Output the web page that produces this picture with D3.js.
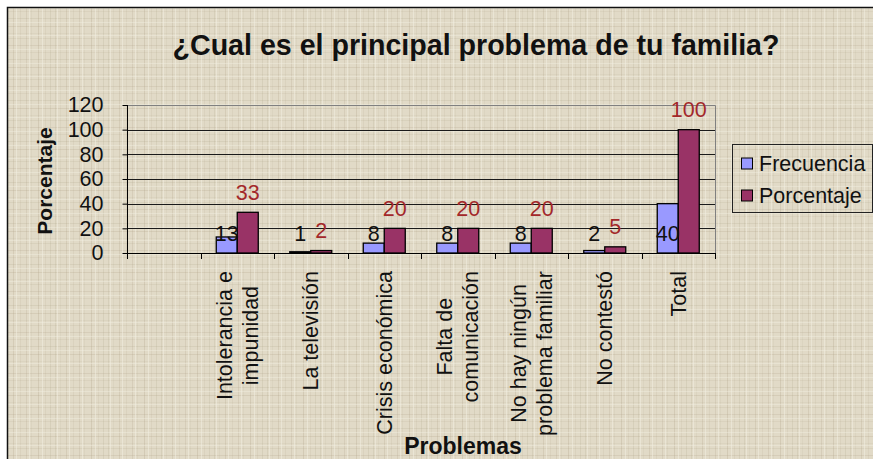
<!DOCTYPE html>
<html>
<head>
<meta charset="utf-8">
<script src="https://cdn.jsdelivr.net/npm/d3@7/dist/d3.min.js"></script>
<style>
  html, body { margin: 0; padding: 0; background: #fff; }
  svg { display: block; }
  text { font-family: "Liberation Sans", Arial, sans-serif; }
</style>
</head>
<body>
<div id="chart"></div>
<script>
// datos del gráfico
var categorias = ["", "Intolerancia e|impunidad", "La televisión", "Crisis económica",
    "Falta de|comunicación", "No hay ningún|problema familiar", "No contestó", "Total"];
var series = ["Frecuencia", "Porcentaje"];
var frecuencia = [null, 13, 1, 8, 8, 8, 2, 40];
var porcentaje = [null, 33, 2, 20, 20, 20, 5, 100];
var yTicks = [0, 20, 40, 60, 80, 100, 120];
var colores = ["#9999ff", "#993366"];

var W = 873, H = 459;
var svg = d3.select("#chart").append("svg").attr("width", W).attr("height", H);

// textura de fondo (papel)
var defs = svg.append("defs");
var pat = defs.append("pattern").attr("id", "papel").attr("patternUnits", "userSpaceOnUse")
    .attr("width", 53).attr("height", 41);
pat.append("rect").attr("width", 53).attr("height", 41).attr("fill", "#e1dac7");
[[2, .18], [7, .1], [13, .22], [20, .12], [26, .2], [31, .1], [38, .25], [45, .12], [50, .18]].forEach(function (v) {
    pat.append("rect").attr("x", v[0]).attr("y", 0).attr("width", 1).attr("height", 41)
        .attr("fill", "#a89c80").attr("opacity", v[1]);
});
[[4, .2], [11, .12], [18, .18], [26, .22], [33, .1], [38, .15]].forEach(function (v) {
    pat.append("rect").attr("x", 0).attr("y", v[0]).attr("width", 53).attr("height", 1)
        .attr("fill", "#a89c80").attr("opacity", v[1]);
});
[4, 16, 29, 42].forEach(function (v) {
    pat.append("rect").attr("x", v).attr("y", 0).attr("width", 1).attr("height", 41)
        .attr("fill", "#f3efe4").attr("opacity", .5);
});
[8, 22, 35].forEach(function (v) {
    pat.append("rect").attr("x", 0).attr("y", v).attr("width", 53).attr("height", 1)
        .attr("fill", "#f3efe4").attr("opacity", .4);
});

svg.append("rect").attr("x", 7).attr("y", 7).attr("width", W - 7).attr("height", H - 7)
    .attr("fill", "url(#papel)");
svg.append("path").attr("d", "M7.5," + H + "V7.5H" + W)
    .attr("fill", "none").attr("stroke", "#111").attr("stroke-width", 1.5);

// escalas
var x0 = d3.scaleBand().domain(categorias).range([127, 715]);
var x1 = d3.scaleBand().domain(series).range([15.75, 57.75]);
var y = d3.scaleLinear().domain([0, 120]).range([253, 105]);

// líneas de división
svg.append("g").selectAll("line").data(yTicks.slice(1, -1)).enter().append("line")
    .attr("x1", 127).attr("x2", 715)
    .attr("y1", function (d) { return Math.round(y(d)) + .5; })
    .attr("y2", function (d) { return Math.round(y(d)) + .5; })
    .attr("stroke", "#1a1a1a");
svg.append("path")
    .attr("d", "M127," + (Math.round(y(120)) + .5) + "H715.5V" + y(0))
    .attr("fill", "none").attr("stroke", "#808080");

// barras
var datos = categorias.map(function (c, i) {
    return { cat: c, vals: [frecuencia[i], porcentaje[i]] };
});
var grupos = svg.append("g").selectAll("g").data(datos).enter().append("g")
    .attr("transform", function (d) { return "translate(" + x0(d.cat) + ",0)"; });

function valores(d) {
    return d.vals.map(function (v, j) { return { s: series[j], v: v, j: j }; })
        .filter(function (o) { return o.v !== null; });
}

grupos.selectAll("rect").data(valores).enter().append("rect")
    .attr("x", function (d) { return x1(d.s); })
    .attr("y", function (d) { return y(d.v); })
    .attr("width", x1.bandwidth())
    .attr("height", function (d) { return y(0) - y(d.v); })
    .attr("fill", function (d) { return colores[d.j]; })
    .attr("stroke", "#000").attr("stroke-width", 1.3);

// etiquetas de datos
grupos.selectAll("text.lbl").data(valores).enter().append("text").attr("class", "lbl")
    .attr("x", function (d) { return x1(d.s) + x1.bandwidth() / 2; })
    .attr("y", function (d) { return d.j === 0 ? y(0) - 12.5 : y(d.v) - 12.5; })
    .attr("text-anchor", "middle")
    .attr("font-size", "21.5px")
    .attr("fill", function (d) { return d.j === 0 ? "#111" : "#a3282a"; })
    .text(function (d) { return d.v; });

// ejes
var yAxis = d3.axisLeft(y).tickValues(yTicks).tickSize(5).tickPadding(19);
var gy = svg.append("g").attr("transform", "translate(127.5,0)").call(yAxis);
gy.select(".domain").remove();
gy.selectAll("line").attr("stroke", "#000");
gy.selectAll("text").attr("font-size", "21.5px").attr("fill", "#111")
    .attr("font-family", "'Liberation Sans', Arial, sans-serif");
svg.append("line").attr("x1", 127.5).attr("x2", 127.5).attr("y1", y(120)).attr("y2", y(0) + 5)
    .attr("stroke", "#000");
svg.append("line").attr("x1", 127).attr("x2", 716).attr("y1", y(0) + .5).attr("y2", y(0) + .5)
    .attr("stroke", "#000");

var bordes = categorias.map(function (c) { return x0(c); }).concat([x0.range()[1]]);
svg.append("g").selectAll("line").data(bordes).enter().append("line")
    .attr("x1", function (d) { return Math.round(d) + .5; })
    .attr("x2", function (d) { return Math.round(d) + .5; })
    .attr("y1", y(0)).attr("y2", y(0) + 6).attr("stroke", "#000");

// etiquetas de categorías (giradas)
var cats = svg.append("g").selectAll("g").data(categorias.filter(function (c) { return c; }))
    .enter().append("g")
    .attr("transform", function (d) {
        return "translate(" + (x0(d) + x0.bandwidth() / 2) + ",271) rotate(-90)";
    });
cats.each(function (d) {
    var g = d3.select(this), lineas = d.split("|"), n = lineas.length;
    var t = g.selectAll("text").data(lineas).enter().append("text")
        .attr("text-anchor", "middle").attr("font-size", "21.5px").attr("fill", "#111")
        .attr("y", function (l, i) { return (i - (n - 1) / 2) * 26; })
        .attr("dy", "0.35em")
        .text(function (l) { return l; });
    var maxLen = d3.max(t.nodes(), function (nd) { return nd.getComputedTextLength(); });
    t.attr("x", -maxLen / 2);
});

// títulos
svg.append("text").attr("x", 476).attr("y", 55).attr("text-anchor", "middle")
    .attr("font-size", "28.6px").attr("font-weight", "bold").attr("fill", "#111")
    .text("¿Cual es el principal problema de tu familia?");
svg.append("text").attr("transform", "translate(45,181) rotate(-90)")
    .attr("text-anchor", "middle").attr("dy", "0.35em")
    .attr("font-size", "21px").attr("font-weight", "bold").attr("fill", "#111")
    .text("Porcentaje");
svg.append("text").attr("x", 463).attr("y", 454).attr("text-anchor", "middle")
    .attr("font-size", "23px").attr("font-weight", "bold").attr("fill", "#111")
    .text("Problemas");

// leyenda
var ley = svg.append("g").attr("transform", "translate(732,144)");
ley.append("rect").attr("x", .5).attr("y", .5).attr("width", 140).attr("height", 68)
    .attr("fill", "none").attr("stroke", "#222");
var items = ley.selectAll("g").data(series).enter().append("g")
    .attr("transform", function (d, i) { return "translate(9," + (19.5 + i * 32) + ")"; });
items.append("rect").attr("x", .5).attr("y", -5.5).attr("width", 11).attr("height", 11)
    .attr("fill", function (d, i) { return colores[i]; }).attr("stroke", "#000");
items.append("text").attr("x", 18).attr("dy", "0.36em").attr("font-size", "21.5px")
    .attr("fill", "#111").text(function (d) { return d; });
</script>
</body>
</html>
